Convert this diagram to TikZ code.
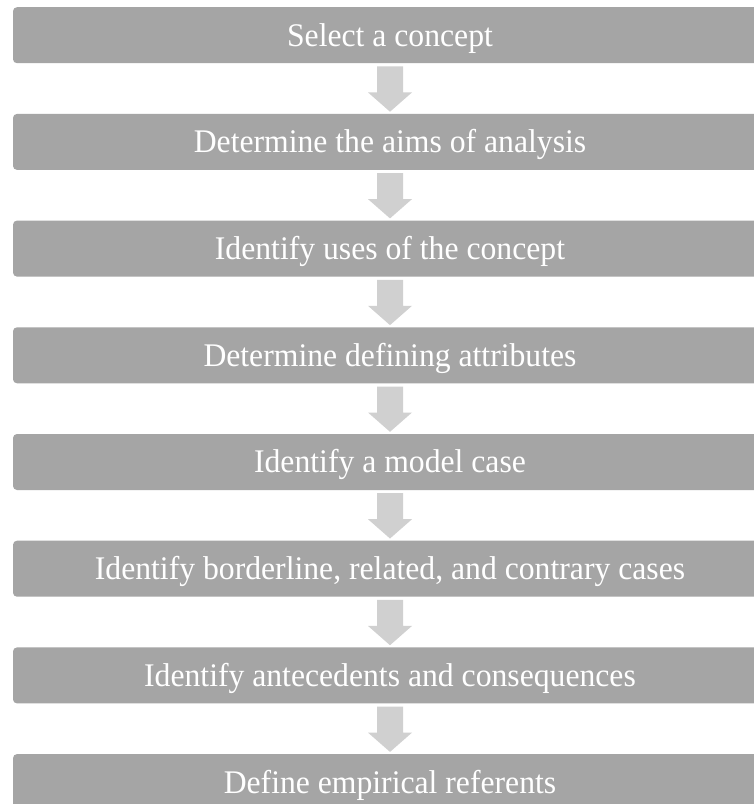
\documentclass[tikz,border=0pt]{standalone}
\usepackage{fontspec}
\setmainfont{Liberation Serif}[FakeStretch=0.96]
\usetikzlibrary{calc}
\definecolor{boxgray}{HTML}{A5A5A5}
\definecolor{arrowgray}{HTML}{D0D0D0}
\tikzset{
  stepbox/.style={fill=boxgray, draw=none, rounded corners=4pt, minimum width=754pt,
    minimum height=56pt, inner sep=0pt, text=white, font=\fontsize{33}{38}\selectfont,
    text height=21.8pt, text depth=0pt, anchor=north},
  downarrow/.style={fill=arrowgray, draw=none}
}
\newcommand{\flowarrow}[2]{%
  \fill[downarrow] ($(#1.south)+(-13,3)$) -- ($(#1.south)+(13,3)$) -- ($(#1.south)+(13,29)$)
    -- ($(#1.south)+(22,29)$) -- ($(#2.north)+(0,-2)$) -- ($(#1.south)+(-22,29)$)
    -- ($(#1.south)+(-13,29)$) -- cycle;}
\begin{document}
\begin{tikzpicture}[x=1pt,y=-1pt]
\clip (0,0) rectangle (754,804);
\fill[white] (0,0) rectangle (754,804);
\node[stepbox] (b1) at (390,7) {Select a concept};
\node[stepbox] (b2) at (390,113.7) {Determine the aims of analysis};
\node[stepbox] (b3) at (390,220.4) {Identify uses of the concept};
\node[stepbox] (b4) at (390,327.1) {Determine defining attributes};
\node[stepbox] (b5) at (390,433.8) {Identify a model case};
\node[stepbox] (b6) at (390,540.5) {Identify borderline, related, and contrary cases};
\node[stepbox] (b7) at (390,647.2) {Identify antecedents and consequences};
\node[stepbox] (b8) at (390,753.9) {Define empirical referents};
\flowarrow{b1}{b2}
\flowarrow{b2}{b3}
\flowarrow{b3}{b4}
\flowarrow{b4}{b5}
\flowarrow{b5}{b6}
\flowarrow{b6}{b7}
\flowarrow{b7}{b8}
\end{tikzpicture}
\end{document}
